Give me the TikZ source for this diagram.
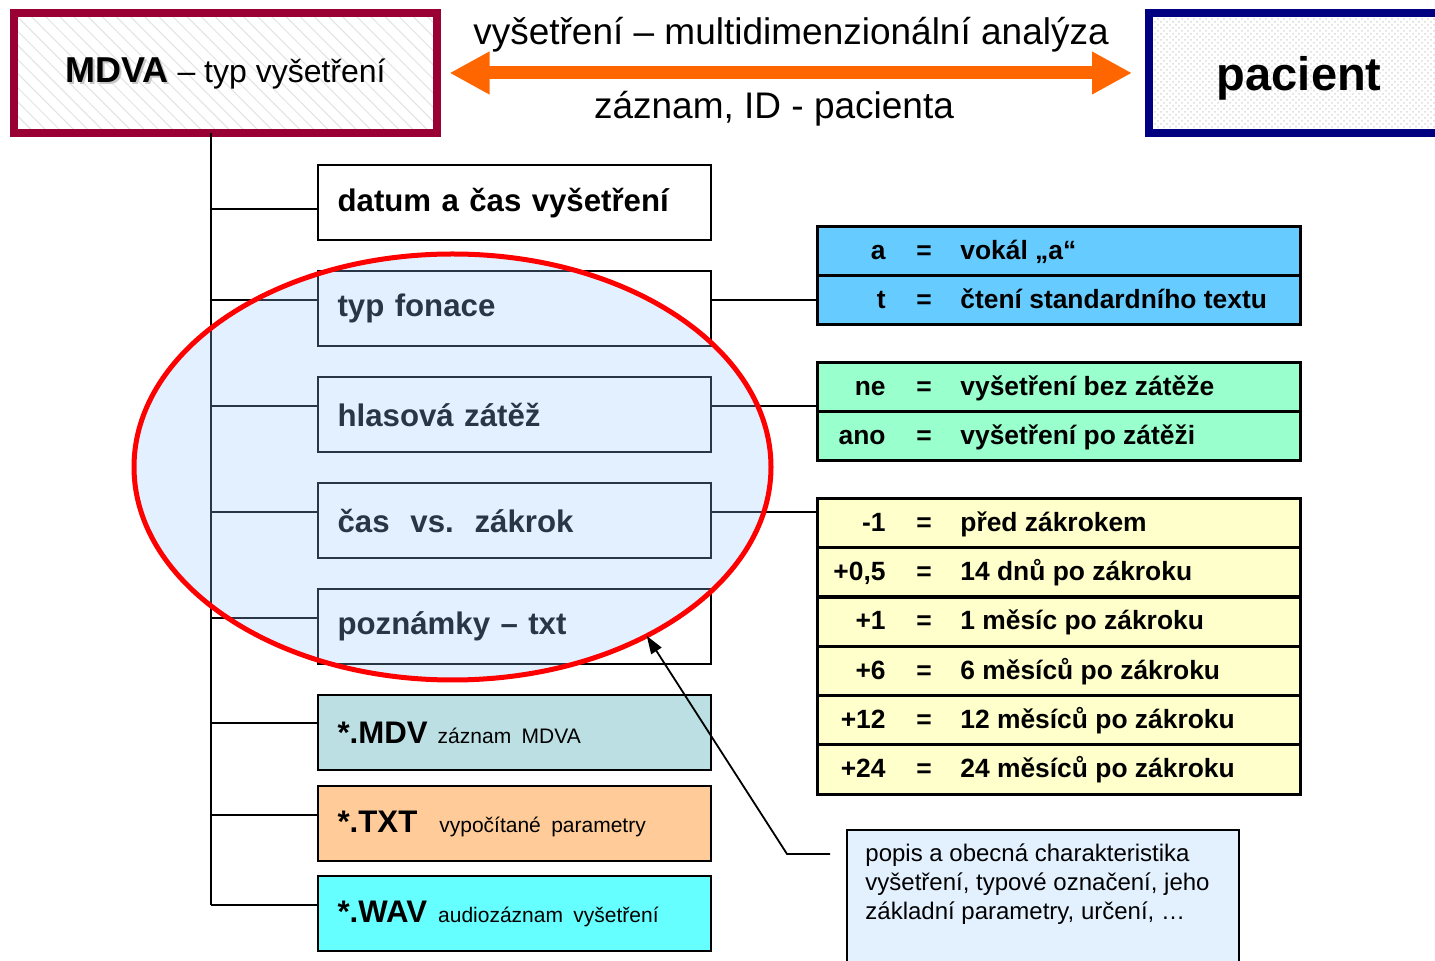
\documentclass[tikz,border=0pt]{standalone}
\usepackage{fontspec}
\setmainfont{Liberation Sans}
\usetikzlibrary{positioning,shapes.geometric,arrows.meta,patterns,patterns.meta}
\definecolor{mdvaframe}{HTML}{990033}
\definecolor{pacframe}{HTML}{000080}
\definecolor{linkorange}{HTML}{FF6600}
\definecolor{fonrow}{HTML}{66CCFF}
\definecolor{zatrow}{HTML}{99FFCC}
\definecolor{casrow}{HTML}{FFFFCC}
\definecolor{mdvfill}{HTML}{BBDFE3}
\definecolor{txtfill}{HTML}{FFCC99}
\definecolor{wavfill}{HTML}{66FFFF}
\definecolor{notefill}{HTML}{E3F1FF}
\definecolor{ringfill}{RGB}{150,200,255}
\definecolor{ringred}{HTML}{FF0000}
\newcommand{\mdvashadow}[1]{\makebox[0pt][l]{\hspace{1pt}\raisebox{-1pt}{\textcolor{gray!45}{#1}}}#1}

\begin{document}
\begin{tikzpicture}[x=0.5pt, y=-0.5pt,
  headbox/.style={draw, line width=4pt, minimum width=211.5pt, minimum height=60pt,
                  inner sep=0pt, preaction={fill=white}},
  itembox/.style={draw, line width=1.1pt, fill=white, minimum width=196.5pt,
                  minimum height=37.5pt, text width=177pt, align=left, inner xsep=9.5pt,
                  anchor=north west, font=\fontsize{15.6}{19}\selectfont\bfseries},
  tabrow/.style={draw, line width=1.5pt, minimum width=241.5pt, minimum height=24.6pt,
                 anchor=north west, inner sep=0pt},
  tabtext/.style={font=\fontsize{13.2}{15}\selectfont\bfseries, inner sep=0pt, yshift=-1.4pt},
  toptext/.style={font=\fontsize{18.5}{22}\selectfont, inner sep=0pt, anchor=base},
  tree/.style={line width=1pt},
  biarrow/.style={draw=linkorange, line width=6.5pt,
                  {Triangle[length=20pt,width=20pt]}-{Triangle[length=20pt,width=20pt]}},
  pointer/.style={line width=0.9pt, -{Triangle[length=9pt,width=6pt]}},
  notebox/.style={draw, line width=1.2pt, fill=notefill, minimum width=196pt,
                  minimum height=80pt, anchor=north west},
  notetext/.style={font=\fontsize{12}{14.5}\selectfont, align=left, inner sep=0pt,
                   anchor=north west}]
  \path[use as bounding box, fill=white] (0,0) rectangle (1435,961);

  % head boxes and the link between them
  \node[headbox, draw=mdvaframe, pattern={Lines[angle=-45,distance=5pt,line width=0.5pt]},
        pattern color=gray!22] (mdva) at (225.5,73)
    {{\fontsize{18}{21}\selectfont\bfseries\mdvashadow{MDVA}}\fontsize{16}{19}\selectfont{} – typ vyšetření};
  \node[headbox, draw=pacframe, minimum width=150.75pt, pattern=crosshatch dots,
        pattern color=gray!30, font=\fontsize{23.5}{28}\selectfont\bfseries,
        text depth=0pt] (pac) at (1299.25,73) {pacient};
  \draw[biarrow] ([xshift=6pt]mdva.east) -- ([xshift=-6.25pt]pac.west);
  \node[toptext] (toplabel) at (791,45) {vyšetření – multidimenzionální analýza};
  \node[toptext] (botlabel) at (774,119) {záznam, ID - pacienta};

  % record items
  \node[itembox] (dat) at (317,164) {datum a čas vyšetření};
  \node[itembox, below=14.4pt of dat] (fon) {typ fonace};
  \node[itembox, below=14.4pt of fon] (zat) {hlasová zátěž};
  \node[itembox, below=14.4pt of zat] (cas) {čas\ \ vs.\ \ zákrok};
  \node[itembox, below=14.4pt of cas] (poz) {poznámky – txt};
  \node[itembox, fill=mdvfill, below=14.4pt of poz] (mdv)
    {*.MDV\hspace{5pt}{\fontsize{10.5}{12}\selectfont\mdseries záznam MDVA}};
  \node[itembox, fill=txtfill, below=6.9pt of mdv] (txt)
    {*.TXT\hspace{11pt}{\fontsize{10.5}{12}\selectfont\mdseries vypočítané parametry}};
  \node[itembox, fill=wavfill, below=6.4pt of txt] (wav)
    {*.WAV\hspace{5.5pt}{\fontsize{10.5}{12}\selectfont\mdseries audiozáznam vyšetření}};

  % tree
  \foreach \b/\o in {dat/22.5pt, fon/15pt, zat/15pt, cas/15pt, poz/15pt, mdv/14.5pt, txt/15pt, wav/15pt}
    \coordinate (br\b) at ([yshift=-\o]\b.north west);
  \coordinate (trunk) at (211,0);
  \draw[tree] (trunk |- mdva.south) -- (trunk |- brwav);
  \foreach \b in {dat, fon, zat, cas, poz, mdv, txt, wav}
    \draw[tree] (trunk |- br\b) -- (br\b);

  % code tables
  \foreach \k/\v [count=\i from 0] in {a/{vokál „a“}, t/{čtení standardního textu}} {
    \node[tabrow, fill=fonrow] (fa\i) at (816, {225+\i*49.2}) {};
    \node[tabtext, anchor=mid east] (fak\i) at ([xshift=35pt]fa\i.west) {\k};
    \node[tabtext, anchor=mid] (fae\i) at ([xshift=54pt]fa\i.west) {=};
    \node[tabtext, anchor=mid west] (fav\i) at ([xshift=72pt]fa\i.west) {\v};
  }
  \foreach \k/\v [count=\i from 0] in {ne/{vyšetření bez zátěže}, ano/{vyšetření po zátěži}} {
    \node[tabrow, fill=zatrow] (za\i) at (816, {361+\i*49.2}) {};
    \node[tabtext, anchor=mid east] (zak\i) at ([xshift=35pt]za\i.west) {\k};
    \node[tabtext, anchor=mid] (zae\i) at ([xshift=54pt]za\i.west) {=};
    \node[tabtext, anchor=mid west] (zav\i) at ([xshift=72pt]za\i.west) {\v};
  }
  \foreach \k/\v [count=\i from 0] in {-1/{před zákrokem}, {+0,5}/{14 dnů po zákroku},
      +1/{1 měsíc po zákroku}, +6/{6 měsíců po zákroku}, +12/{12 měsíců po zákroku},
      +24/{24 měsíců po zákroku}} {
    \node[tabrow, fill=casrow] (ca\i) at (816, {497+\i*49.3}) {};
    \node[tabtext, anchor=mid east] (cak\i) at ([xshift=35pt]ca\i.west) {\k};
    \node[tabtext, anchor=mid] (cae\i) at ([xshift=54pt]ca\i.west) {=};
    \node[tabtext, anchor=mid west] (cav\i) at ([xshift=72pt]ca\i.west) {\v};
  }
  \draw[tree] (fon.east |- brfon) -- (fa0.west |- brfon);
  \draw[tree] (zat.east |- brzat) -- (za0.west |- brzat);
  \draw[tree] (cas.east |- brcas) -- (ca0.west |- brcas);

  % highlighted group
  \node[ellipse, draw=ringred, line width=2.5pt, fill=ringfill, fill opacity=0.27,
        draw opacity=1, minimum width=318.5pt, minimum height=213pt, inner sep=0pt,
        outer sep=0pt] (ring) at (452.5,467) {};

  % note
  \node[notebox] (note) at (846,829) {};
  \node[notetext] (notetx) at ([xshift=9.5pt,yshift=-7.25pt]note.north west)
    {popis a obecná charakteristika\\vyšetření, typové označení, jeho\\základní parametry, určení, …};
  \coordinate (elbow) at (787,854);
  \coordinate (noteend) at ([xshift=-8pt]note.west |- elbow);
  \draw[pointer] (noteend) -- (elbow) -- (ring.-41);
\end{tikzpicture}
\end{document}
